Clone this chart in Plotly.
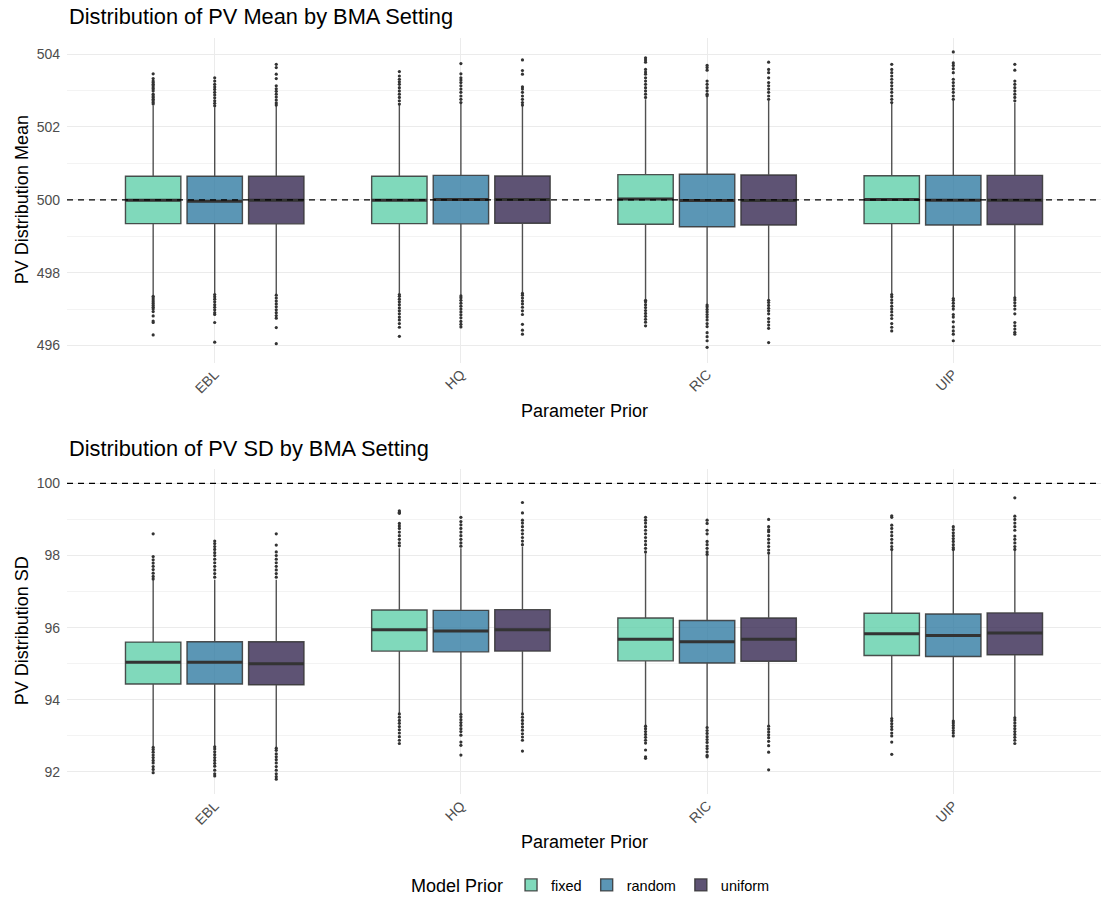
import plotly.graph_objects as go

# ---------------------------------------------------------------
# Data
# ---------------------------------------------------------------
categories = ["EBL", "HQ", "RIC", "UIP"]
priors = ["fixed", "random", "uniform"]
# fill colours, drawn at 80% opacity
prior_colors = {"fixed": "rgba(96,208,170,0.8)",
                "random": "rgba(50,124,163,0.8)",
                "uniform": "rgba(54,40,81,0.8)"}

# PV distribution mean: box statistics per prior, ordered as categories
mean_q1 = {"fixed": [499.345, 499.345, 499.33, 499.345],
           "random": [499.345, 499.34, 499.26, 499.31],
           "uniform": [499.34, 499.355, 499.31, 499.32]}
mean_median = {"fixed": [499.99, 499.99, 500.02, 500.01],
               "random": [499.96, 500.01, 499.98, 499.99],
               "uniform": [499.99, 500.01, 499.98, 499.99]}
mean_q3 = {"fixed": [500.645, 500.645, 500.69, 500.66],
           "random": [500.645, 500.67, 500.70, 500.67],
           "uniform": [500.645, 500.655, 500.68, 500.67]}
mean_lo = {"fixed": [497.38, 497.42, 497.26, 497.42],
           "random": [497.42, 497.38, 497.13, 497.31],
           "uniform": [497.40, 497.45, 497.26, 497.33]}
mean_hi = {"fixed": [502.58, 502.60, 502.76, 502.63],
           "random": [502.54, 502.63, 502.84, 502.72],
           "uniform": [502.58, 502.58, 502.72, 502.67]}
mean_out_hi = {
    "fixed": [
        [503.46, 503.33, 503.26, 503.22, 503.17, 503.13, 503.08, 503.04, 502.99, 502.90, 502.85, 502.81, 502.76, 502.72, 502.67, 502.63],
        [503.52, 503.40, 503.31, 503.24, 503.17, 503.08, 502.99, 502.90, 502.81, 502.72, 502.63],
        [503.90, 503.84, 503.78, 503.58, 503.51, 503.45, 503.35, 503.26, 503.17, 503.08, 502.99, 502.90, 502.81],
        [503.72, 503.58, 503.49, 503.40, 503.31, 503.22, 503.13, 503.04, 502.95, 502.85, 502.76, 502.67],
    ],
    "random": [
        [503.35, 503.26, 503.17, 503.10, 503.03, 502.95, 502.88, 502.80, 502.72, 502.65, 502.58],
        [503.74, 503.46, 503.35, 503.29, 503.22, 503.13, 503.04, 502.95, 502.85, 502.76, 502.67],
        [503.69, 503.63, 503.56, 503.26, 503.17, 503.08, 502.99, 502.90, 502.86],
        [504.06, 503.76, 503.69, 503.60, 503.49, 503.31, 503.22, 503.13, 503.04, 502.95, 502.85, 502.76],
    ],
    "uniform": [
        [503.72, 503.63, 503.45, 503.33, 503.13, 503.05, 502.98, 502.90, 502.82, 502.74, 502.66, 502.60],
        [503.84, 503.55, 503.45, 503.10, 503.04, 502.95, 502.85, 502.76, 502.67, 502.60],
        [503.78, 503.58, 503.49, 503.35, 503.22, 503.13, 503.04, 502.95, 502.85, 502.76],
        [503.72, 503.56, 503.26, 503.17, 503.08, 502.99, 502.90, 502.81, 502.72],
    ],
}
mean_out_lo = {
    "fixed": [
        [497.35, 497.30, 497.25, 497.20, 497.15, 497.10, 497.05, 497.00, 496.93, 496.81, 496.67, 496.63, 496.29],
        [497.40, 497.35, 497.27, 497.20, 497.12, 497.03, 496.95, 496.87, 496.78, 496.70, 496.60, 496.50, 496.25],
        [497.24, 497.20, 497.12, 497.04, 496.96, 496.88, 496.80, 496.72, 496.64, 496.54],
        [497.40, 497.34, 497.25, 497.17, 497.08, 497.00, 496.92, 496.83, 496.74, 496.60, 496.50, 496.40],
    ],
    "random": [
        [497.40, 497.34, 497.27, 497.20, 497.12, 497.05, 496.98, 496.90, 496.85, 496.63, 496.09],
        [497.36, 497.31, 497.24, 497.16, 497.08, 497.00, 496.92, 496.84, 496.76, 496.66, 496.58, 496.51],
        [497.11, 497.06, 496.99, 496.92, 496.85, 496.78, 496.70, 496.60, 496.52, 496.35, 496.24, 496.13, 495.95],
        [497.29, 497.24, 497.16, 497.08, 497.00, 496.85, 496.78, 496.65, 496.51, 496.40, 496.31, 496.13],
    ],
    "uniform": [
        [497.38, 497.30, 497.22, 497.14, 497.06, 496.98, 496.90, 496.82, 496.75, 496.49, 496.05],
        [497.43, 497.38, 497.30, 497.22, 497.14, 497.05, 496.95, 496.85, 496.58, 496.42, 496.31],
        [497.24, 497.18, 497.10, 497.02, 496.95, 496.87, 496.74, 496.65, 496.56, 496.47, 496.08],
        [497.31, 497.25, 497.17, 497.09, 497.00, 496.87, 496.63, 496.54, 496.45, 496.36, 496.31],
    ],
}

# PV distribution SD: box statistics per prior, ordered as categories
sd_q1 = {"fixed": [94.44, 95.35, 95.08, 95.23],
         "random": [94.44, 95.33, 95.02, 95.20],
         "uniform": [94.42, 95.35, 95.07, 95.25]}
sd_median = {"fixed": [95.04, 95.94, 95.68, 95.83],
             "random": [95.04, 95.91, 95.61, 95.78],
             "uniform": [95.00, 95.94, 95.68, 95.85]}
sd_q3 = {"fixed": [95.60, 96.49, 96.27, 96.40],
         "random": [95.61, 96.48, 96.20, 96.38],
         "uniform": [95.61, 96.50, 96.27, 96.41]}
sd_lo = {"fixed": [92.70, 93.63, 93.29, 93.50],
         "random": [92.72, 93.62, 93.25, 93.43],
         "uniform": [92.68, 93.63, 93.29, 93.52]}
sd_hi = {"fixed": [97.33, 98.20, 98.06, 98.16],
         "random": [97.33, 98.20, 98.00, 98.16],
         "uniform": [97.33, 98.25, 98.06, 98.16]}
sd_out_hi = {
    "fixed": [
        [98.60, 97.97, 97.88, 97.79, 97.70, 97.61, 97.51, 97.42, 97.35],
        [99.24, 99.20, 99.17, 98.89, 98.82, 98.75, 98.65, 98.55, 98.45, 98.35, 98.27],
        [99.06, 98.98, 98.90, 98.80, 98.70, 98.60, 98.50, 98.40, 98.30, 98.20, 98.10],
        [99.10, 99.06, 98.84, 98.75, 98.65, 98.55, 98.45, 98.35, 98.25, 98.17],
    ],
    "random": [
        [98.40, 98.33, 98.25, 98.17, 98.08, 98.00, 97.90, 97.80, 97.70, 97.60, 97.50, 97.40],
        [99.06, 98.94, 98.85, 98.75, 98.65, 98.55, 98.45, 98.35, 98.26],
        [98.98, 98.89, 98.70, 98.60, 98.39, 98.30, 98.20, 98.10, 98.03],
        [98.80, 98.72, 98.63, 98.55, 98.47, 98.39, 98.30, 98.22, 98.17],
    ],
    "uniform": [
        [98.60, 98.29, 98.10, 98.00, 97.90, 97.80, 97.70, 97.60, 97.50, 97.40],
        [99.47, 99.18, 98.98, 98.90, 98.80, 98.70, 98.60, 98.50, 98.40, 98.30],
        [99.00, 98.80, 98.71, 98.66, 98.55, 98.45, 98.35, 98.25, 98.15, 98.07],
        [99.60, 99.09, 99.00, 98.90, 98.80, 98.70, 98.54, 98.45, 98.35, 98.25, 98.17],
    ],
}
sd_out_lo = {
    "fixed": [
        [92.68, 92.62, 92.55, 92.47, 92.40, 92.32, 92.25, 92.15, 92.07, 91.98],
        [93.61, 93.52, 93.43, 93.35, 93.26, 93.17, 93.08, 92.98, 92.88, 92.79],
        [93.27, 93.20, 93.12, 93.04, 92.96, 92.88, 92.80, 92.61, 92.42, 92.38],
        [93.48, 93.42, 93.34, 93.26, 93.18, 93.08, 93.00, 92.83, 92.49],
    ],
    "random": [
        [92.70, 92.64, 92.56, 92.48, 92.40, 92.32, 92.24, 92.16, 92.05, 91.95, 91.89],
        [93.60, 93.53, 93.45, 93.37, 93.29, 93.20, 93.12, 93.02, 92.83, 92.74, 92.47],
        [93.23, 93.15, 93.07, 92.98, 92.90, 92.82, 92.72, 92.65, 92.56, 92.46, 92.42],
        [93.41, 93.36, 93.29, 93.22, 93.15, 93.08, 93.00],
    ],
    "uniform": [
        [92.66, 92.60, 92.50, 92.42, 92.34, 92.25, 92.15, 92.05, 91.95, 91.87, 91.80],
        [93.61, 93.52, 93.43, 93.34, 93.25, 93.16, 93.06, 92.97, 92.88, 92.58],
        [93.27, 93.19, 93.11, 93.03, 92.95, 92.85, 92.73, 92.55, 92.06],
        [93.50, 93.44, 93.36, 93.28, 93.20, 93.12, 93.04, 92.96, 92.88, 92.79],
    ],
}

# ---------------------------------------------------------------
# Styling
# ---------------------------------------------------------------
FONT = "Liberation Sans, Arial, Helvetica, sans-serif"
W, H = 1101, 903
BOX_LINE = "rgba(51,51,51,0.85)"
POINT = "#333333"
GRID = "#ebebeb"
DODGE = 0.25          # spacing between priors within a category
BOX_W = 0.225         # box width in category units

panels = [
    dict(xa="x", ya="y", q1=mean_q1, med=mean_median, q3=mean_q3, lo=mean_lo,
         hi=mean_hi, out_hi=mean_out_hi, out_lo=mean_out_lo, ref=500),
    dict(xa="x2", ya="y2", q1=sd_q1, med=sd_median, q3=sd_q3, lo=sd_lo,
         hi=sd_hi, out_hi=sd_out_hi, out_lo=sd_out_lo, ref=100),
]

fig = go.Figure()

for pi, p in enumerate(panels):
    for j, prior in enumerate(priors):
        pos = [i + 1 + (j - 1) * DODGE for i in range(len(categories))]
        fig.add_trace(go.Box(
            x=pos, q1=p["q1"][prior], median=p["med"][prior], q3=p["q3"][prior],
            lowerfence=p["lo"][prior], upperfence=p["hi"][prior],
            width=BOX_W, whiskerwidth=0, boxpoints=False,
            fillcolor=prior_colors[prior], line=dict(color=BOX_LINE, width=1.4),
            name=prior, legendgroup=prior, showlegend=(pi == 0),
            xaxis=p["xa"], yaxis=p["ya"], hoverinfo="skip",
        ))
        # heavier median bar drawn as a flat box
        fig.add_trace(go.Box(
            x=pos, q1=p["med"][prior], median=p["med"][prior], q3=p["med"][prior],
            lowerfence=p["med"][prior], upperfence=p["med"][prior],
            width=BOX_W, whiskerwidth=0, boxpoints=False,
            fillcolor="rgba(0,0,0,0)", line=dict(color="#333333", width=3),
            showlegend=False, legendgroup=prior,
            xaxis=p["xa"], yaxis=p["ya"], hoverinfo="skip",
        ))
        # outliers
        ox, oy = [], []
        for i in range(len(categories)):
            vals = p["out_hi"][prior][i] + p["out_lo"][prior][i]
            ox += [pos[i]] * len(vals)
            oy += vals
        fig.add_trace(go.Scatter(
            x=ox, y=oy, mode="markers",
            marker=dict(size=3.2, color=POINT, line=dict(width=0)),
            showlegend=False, xaxis=p["xa"], yaxis=p["ya"], hoverinfo="skip",
        ))

# dashed reference lines
for p in panels:
    fig.add_shape(type="line", xref=f"{p['xa']} domain", yref=p["ya"],
                  x0=0, x1=1, y0=p["ref"], y1=p["ref"], layer="above",
                  line=dict(color="black", width=1.3, dash="6px,5px"))

x_dom = [67 / W, 1.0]
y1_dom = [1 - 365 / H, 1 - 38 / H]
y2_dom = [1 - 799.3 / H, 1 - 471.7 / H]

xaxis_common = dict(
    range=[0.4, 4.6], tickmode="array", tickvals=[1, 2, 3, 4], ticktext=categories,
    tickangle=-45, showgrid=True, gridcolor=GRID, gridwidth=1.3,
    zeroline=False, showline=False, ticks="",
    tickfont=dict(family=FONT, size=14, color="#4d4d4d"),
)
yaxis_common = dict(
    showgrid=True, gridcolor=GRID, gridwidth=1.3, zeroline=False, showline=False,
    ticks="", tickfont=dict(family=FONT, size=14, color="#4d4d4d"),
    ticklabelstandoff=6,
)

fig.update_layout(
    width=W, height=H,
    margin=dict(l=0, r=0, t=0, b=0),
    paper_bgcolor="white", plot_bgcolor="white",
    font=dict(family=FONT, color="black"),
    xaxis=dict(domain=x_dom, anchor="y", **xaxis_common),
    xaxis2=dict(domain=x_dom, anchor="y2", **xaxis_common),
    yaxis=dict(domain=y1_dom, anchor="x", range=[495.53, 504.45],
               tickmode="linear", tick0=496, dtick=2,
               minor=dict(dtick=1, tick0=495, showgrid=True, gridcolor="#f3f3f3", gridwidth=0.8),
               **yaxis_common),
    yaxis2=dict(domain=y2_dom, anchor="x2", range=[91.39, 100.41],
                tickmode="linear", tick0=92, dtick=2,
                minor=dict(dtick=1, tick0=91, showgrid=True, gridcolor="#f3f3f3", gridwidth=0.8),
                **yaxis_common),
    showlegend=True,
    legend=dict(
        orientation="h", x=592 / W, xanchor="center", y=1 - 892 / H, yanchor="middle",
        title=dict(text="Model Prior", font=dict(family=FONT, size=18, color="black")),
        font=dict(family=FONT, size=14.5, color="black"),
        bgcolor="rgba(0,0,0,0)",
    ),
)

annotations = [
    dict(text="Distribution of PV Mean by BMA Setting", x=67 / W, y=1 - 17 / H,
         xanchor="left", yanchor="middle", font=dict(size=21.8)),
    dict(text="Distribution of PV SD by BMA Setting", x=67 / W, y=1 - 451 / H,
         xanchor="left", yanchor="middle", font=dict(size=21.8)),
    dict(text="Parameter Prior", x=584 / W, y=1 - 414 / H,
         xanchor="center", yanchor="middle", font=dict(size=18)),
    dict(text="Parameter Prior", x=584 / W, y=1 - 848 / H,
         xanchor="center", yanchor="middle", font=dict(size=18)),
    dict(text="PV Distribution Mean", x=22 / W, y=1 - 201.5 / H, textangle=-90,
         xanchor="center", yanchor="middle", font=dict(size=18)),
    dict(text="PV Distribution SD", x=22 / W, y=1 - 635.5 / H, textangle=-90,
         xanchor="center", yanchor="middle", font=dict(size=18)),
]
for a in annotations:
    a.update(xref="paper", yref="paper", showarrow=False)
    a["font"] = dict(family=FONT, color="black", **a["font"])
fig.update_layout(annotations=annotations)

fig.write_html("out.html")
